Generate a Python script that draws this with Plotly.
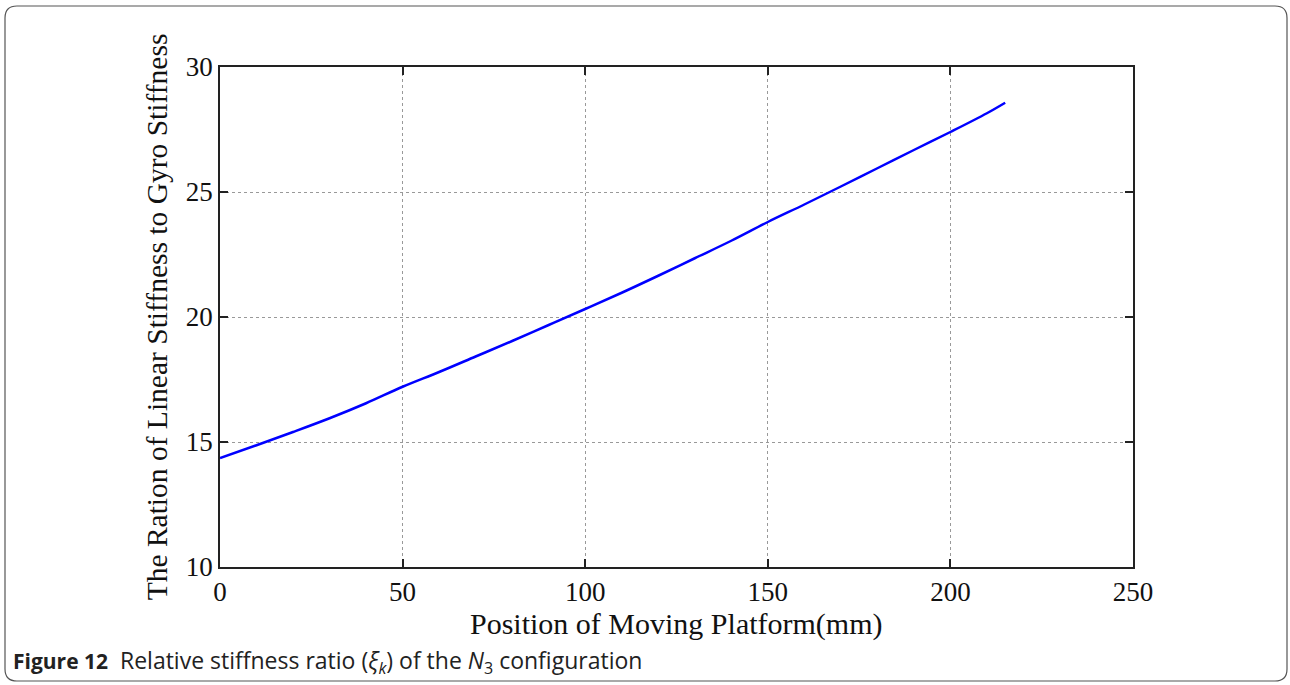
import plotly.graph_objects as go

# Position of moving platform (mm) and stiffness ratio
position_mm = [0, 10, 20, 30, 40, 50, 60, 70, 80, 90, 100, 110, 120,
               130, 140, 150, 160, 170, 180, 190, 200, 210, 215]
stiffness_ratio = [14.36, 14.87, 15.40, 15.95, 16.55, 17.21, 17.80, 18.42,
                   19.04, 19.68, 20.32, 20.97, 21.65, 22.35, 23.05, 23.80,
                   24.50, 25.22, 25.95, 26.68, 27.40, 28.15, 28.57]

x_ticks = [0, 50, 100, 150, 200, 250]
y_ticks = [10, 15, 20, 25, 30]

W, H = 1290, 685
L, R, T, B = 220, 157, 67, 118
pw, ph = W - L - R, H - T - B

serif = "Liberation Serif, Times New Roman, serif"

fig = go.Figure()
fig.add_trace(go.Scatter(
    x=position_mm, y=stiffness_ratio, mode="lines",
    line=dict(color="#0000ff", width=2.5, shape="spline"),
    showlegend=False, hoverinfo="x+y",
))

axis_common = dict(
    showline=True, linecolor="#222", linewidth=1.5, mirror="ticks",
    ticks="inside", ticklen=8, tickcolor="#222", tickwidth=1.5,
    showgrid=True, gridcolor="#999", gridwidth=1, griddash="dot",
    zeroline=False, tickfont=dict(family=serif, size=27, color="#111"),
)

fig.update_xaxes(range=[0, 250], tickvals=x_ticks, ticklabelstandoff=0,
                 **axis_common)
fig.update_yaxes(range=[10, 30], tickvals=y_ticks,
                 title=dict(text="The Ration of Linear Stiffness to Gyro Stiffness",
                            font=dict(family=serif, size=29.5, color="#111"),
                            standoff=10),
                 **axis_common)


def px(x):
    return (x - L) / pw


def py(y):
    return (H - B - y) / ph


# x-axis title placed under the tick labels
fig.add_annotation(
    x=0.5, y=py(624), xref="paper", yref="paper",
    xanchor="center", yanchor="middle", showarrow=False,
    text="Position of Moving Platform(mm)",
    font=dict(family=serif, size=30, color="#111"),
)

# rounded frame around the whole figure
x0, x1, y0, y1, r = 5, 1287, 6, 681, 12
path = (f"M {px(x0 + r)} {py(y0)} L {px(x1 - r)} {py(y0)} "
        f"Q {px(x1)} {py(y0)} {px(x1)} {py(y0 + r)} "
        f"L {px(x1)} {py(y1 - r)} Q {px(x1)} {py(y1)} {px(x1 - r)} {py(y1)} "
        f"L {px(x0 + r)} {py(y1)} Q {px(x0)} {py(y1)} {px(x0)} {py(y1 - r)} "
        f"L {px(x0)} {py(y0 + r)} Q {px(x0)} {py(y0)} {px(x0 + r)} {py(y0)} Z")
fig.add_shape(type="path", path=path, xref="paper", yref="paper",
              line=dict(color="#555", width=1.2), layer="below")

fig.add_annotation(
    x=px(11), y=py(661), xref="paper", yref="paper",
    xanchor="left", yanchor="middle", showarrow=False,
    text=("<b style='font-size:21px'>Figure 12</b>  Relative stiffness ratio "
          "(<i>ξ</i><sub><i>k</i></sub>) of the <i>N</i><sub>3</sub> configuration"),
    font=dict(family="Open Sans, Noto Sans, sans-serif", size=23, color="#222"),
)

fig.update_layout(
    width=W, height=H,
    margin=dict(l=L, r=R, t=T, b=B),
    paper_bgcolor="white", plot_bgcolor="white",
)

fig.write_html("out.html")
